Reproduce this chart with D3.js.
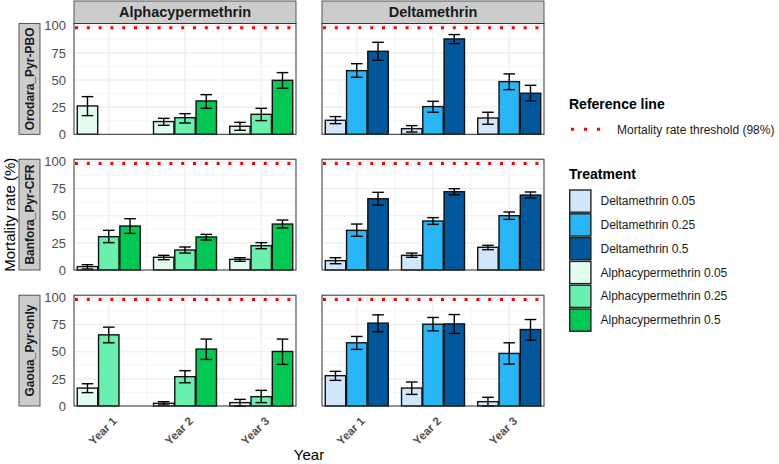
<!DOCTYPE html>
<html><head><meta charset="utf-8">
<script src="https://cdn.jsdelivr.net/npm/d3@7"></script>
<style>body{margin:0;background:#fff}svg{display:block;font-family:"Liberation Sans",Arial,sans-serif}</style>
</head><body><svg id="c" width="779" height="464"></svg>
<script>
const years = ["Year 1","Year 2","Year 3"];
const insecticides = ["Alphacypermethrin","Deltamethrin"];
const sites = ["Orodara_Pyr-PBO","Banfora_Pyr-CFR","Gaoua_Pyr-only"];
const alphaTreatments = ["Alphacypermethrin 0.05","Alphacypermethrin 0.25","Alphacypermethrin 0.5"];
const deltaTreatments = ["Deltamethrin 0.05","Deltamethrin 0.25","Deltamethrin 0.5"];
const legendTreatments = ["Deltamethrin 0.05","Deltamethrin 0.25","Deltamethrin 0.5","Alphacypermethrin 0.05","Alphacypermethrin 0.25","Alphacypermethrin 0.5"];
const treatmentColors = ["#CFE6FB","#29B6F6","#01579B","#E2FCEF","#69F0AE","#00C853"];
const threshold = 98;
const yTicks = [0,25,50,75,100];

// values per site, per year, per dose [mean, low, high]; null = missing
const orodaraAlpha = [[[26.1,17.2,34.7],null,null],[[11.7,8.3,14.7],[15.3,10.4,19],[30.7,23.9,36.5]],[[7.4,3.7,11],[18.4,12.6,23.9],[49.7,42.4,56.8]]];
const orodaraDelta = [[[12.9,9.8,16.3],[58.6,52.5,65],[76.4,68.1,84.7]],[[5.2,2.1,8],[25.5,20.3,30.4],[87.8,83.5,91.8]],[[15,9.2,20.3],[48.5,41.1,55.6],[37.8,30.7,45.1]]];
const banforaAlpha = [[[3.1,0.9,4.9],[30.7,25.2,36.5],[40.5,33.7,47.2]],[[11.7,9.5,13.5],[18.4,15.6,21.2],[30.4,27.6,32.8]],[[9.8,8,11.3],[22.4,19.6,25.2],[42.3,38.7,46]]];
const banforaDelta = [[[8.6,5.8,11.3],[36.5,31,42.3],[65.6,59.8,71.5]],[[13.5,11.7,15.6],[45.1,42,48.2],[72.1,69.3,74.8]],[[20.9,18.7,22.7],[50,46.6,53.4],[69,66.3,71.8]]];
const gaouaAlpha = [[[16.5,12.3,20.5],[65.5,58.2,72.6],null],[[2.5,0.9,4],[27,21.4,32.5],[52.4,42.9,61.6]],[[3.1,0,6.1],[8.6,3.1,14.4],[50.2,38.3,61.6]]];
const gaouaDelta = [[[27.9,23.6,31.9],[58.2,52.1,64],[76.3,68.3,83.9]],[[16.5,10.7,22.1],[75.3,69.2,81.5],[75.6,66.8,84.2]],[[4,0,8],[48.4,38.6,58.2],[70.4,60.6,79.6]]];

const siteData = {
  "Orodara_Pyr-PBO": {Alphacypermethrin: orodaraAlpha, Deltamethrin: orodaraDelta},
  "Banfora_Pyr-CFR": {Alphacypermethrin: banforaAlpha, Deltamethrin: banforaDelta},
  "Gaoua_Pyr-only": {Alphacypermethrin: gaouaAlpha, Deltamethrin: gaouaDelta}
};
const treatmentsFor = {Alphacypermethrin: alphaTreatments, Deltamethrin: deltaTreatments};
const color = d3.scaleOrdinal().domain(legendTreatments).range(treatmentColors);

const svg = d3.select("#c");
const colX = [74, 322], panelW = 222;
const rowY = [23.5, 159.2, 295.2], panelH = 110.8;
const grey = "#4D4D4D";

const x = d3.scalePoint().domain(years).range([0, panelW]).padding(0.456);
const step = x.step();
const y = d3.scaleLinear().domain([0, 102]).range([panelH, 0]);

insecticides.forEach((ins, ci) => {
  const s = svg.append("g").attr("transform", `translate(${colX[ci]},1)`);
  s.append("rect").attr("width", panelW).attr("height", rowY[0]-1).attr("fill", "#CCCCCC").attr("stroke", "#333").attr("stroke-width", 0.8);
  s.append("text").attr("x", panelW/2).attr("y", (rowY[0]-1)/2).attr("dy", "0.36em").attr("text-anchor", "middle")
    .attr("font-size", 14.5).attr("font-weight", "bold").attr("fill", "#1A1A1A").text(ins);

  const band = d3.scaleBand().domain(treatmentsFor[ins]).range([-0.413*step, 0.413*step]).paddingInner(0.04);

  sites.forEach((site, ri) => {
    const g = svg.append("g").attr("transform", `translate(${colX[ci]},${rowY[ri]})`);
    g.append("rect").attr("width", panelW).attr("height", panelH).attr("fill", "#fff");
    const minor = [12.5, 37.5, 62.5, 87.5];
    g.selectAll(".mn").data(minor).join("line").attr("x1", 0).attr("x2", panelW)
      .attr("y1", d => y(d)).attr("y2", d => y(d)).attr("stroke", "#F0F0F0").attr("stroke-width", 0.6);
    g.selectAll(".mj").data(yTicks).join("line").attr("x1", 0).attr("x2", panelW)
      .attr("y1", d => y(d)).attr("y2", d => y(d)).attr("stroke", "#EBEBEB").attr("stroke-width", 1.1);
    const vminor = [ (x(years[0])+x(years[1]))/2, (x(years[1])+x(years[2]))/2 ];
    g.selectAll(".vmn").data(vminor).join("line").attr("x1", d => d).attr("x2", d => d)
      .attr("y1", 0).attr("y2", panelH).attr("stroke", "#F0F0F0").attr("stroke-width", 0.6);
    g.selectAll(".vmj").data(years).join("line").attr("x1", d => x(d)).attr("x2", d => x(d))
      .attr("y1", 0).attr("y2", panelH).attr("stroke", "#EBEBEB").attr("stroke-width", 1.1);

    const vals = siteData[site][ins];
    const recs = [];
    years.forEach((yr, yi) => treatmentsFor[ins].forEach((tr, ti) => {
      const v = vals[yi][ti];
      if (v) recs.push({yr, tr, m: v[0], lo: v[1], hi: v[2]});
    }));
    g.selectAll(".bar").data(recs).join("rect")
      .attr("x", d => x(d.yr) + band(d.tr)).attr("width", band.bandwidth())
      .attr("y", d => y(d.m)).attr("height", d => y(0) - y(d.m))
      .attr("fill", d => color(d.tr)).attr("stroke", "#111").attr("stroke-width", 1.4);
    const cw = 5.8;
    const cx = d => x(d.yr)+band(d.tr)+band.bandwidth()/2;
    const eb = g.selectAll(".eb").data(recs).join("g").attr("stroke", "#000").attr("stroke-width", 1.4);
    eb.append("line").attr("x1", cx).attr("x2", cx).attr("y1", d => y(d.lo)).attr("y2", d => y(d.hi));
    eb.append("line").attr("x1", d => cx(d)-cw).attr("x2", d => cx(d)+cw).attr("y1", d => y(d.lo)).attr("y2", d => y(d.lo));
    eb.append("line").attr("x1", d => cx(d)-cw).attr("x2", d => cx(d)+cw).attr("y1", d => y(d.hi)).attr("y2", d => y(d.hi));

    g.append("line").attr("x1", 1).attr("x2", panelW).attr("y1", y(threshold)).attr("y2", y(threshold))
      .attr("stroke", "#FF0000").attr("stroke-width", 3).attr("stroke-dasharray", "3,8.8");
    g.append("rect").attr("width", panelW).attr("height", panelH).attr("fill", "none").attr("stroke", "#333").attr("stroke-width", 1);

    if (ci === 0) {
      const ya = svg.append("g").attr("transform", `translate(${colX[0]},${rowY[ri]})`);
      ya.selectAll("text").data(yTicks).join("text").attr("x", -8).attr("y", d => y(d)).attr("dy", "0.36em")
        .attr("text-anchor", "end").attr("font-size", 13).attr("fill", grey).text(d => d);
      const rs = svg.append("g").attr("transform", `translate(19,${rowY[ri]})`);
      rs.append("rect").attr("width", 21).attr("height", panelH).attr("fill", "#CCCCCC").attr("stroke", "#333").attr("stroke-width", 0.8);
      rs.append("text").attr("transform", `translate(10.5,${panelH/2}) rotate(-90)`).attr("dy", "0.36em")
        .attr("text-anchor", "middle").attr("font-size", 12).attr("font-weight", "bold").attr("fill", "#1A1A1A").text(site);
    }
    if (ri === 2) {
      const xa = svg.append("g").attr("transform", `translate(${colX[ci]},${rowY[ri]+panelH})`);
      xa.selectAll("text").data(years).join("text")
        .attr("transform", d => `translate(${x(d)+3},${10}) rotate(-45)`).attr("dy", "0.7em")
        .attr("text-anchor", "end").attr("font-size", 11.5).attr("font-weight", "bold").attr("fill", grey).text(d => d);
    }
  });
});

svg.append("text").attr("x", (colX[0] + colX[1] + panelW)/2).attr("y", 460).attr("text-anchor", "middle")
  .attr("font-size", 15).attr("fill", "#000").text("Year");
svg.append("text").attr("transform", `translate(15,${(rowY[0] + rowY[2] + panelH)/2}) rotate(-90)`).attr("text-anchor", "middle")
  .attr("font-size", 15).attr("fill", "#000").text("Mortality rate (%)");

const lg = svg.append("g").attr("transform", "translate(569,0)");
lg.append("text").attr("x", 0).attr("y", 109).attr("font-size", 14).attr("font-weight", "bold").attr("fill", "#000").text("Reference line");
lg.append("line").attr("x1", 2).attr("x2", 32).attr("y1", 129.3).attr("y2", 129.3).attr("stroke", "#FF0000")
  .attr("stroke-width", 3).attr("stroke-dasharray", "3,10");
lg.append("text").attr("x", 48).attr("y", 129.3).attr("dy", "0.36em").attr("font-size", 12).attr("fill", "#1A1A1A").text("Mortality rate threshold (98%)");
lg.append("text").attr("x", 0).attr("y", 179).attr("font-size", 14).attr("font-weight", "bold").attr("fill", "#000").text("Treatment");
const items = lg.selectAll(".li").data(legendTreatments).join("g").attr("transform", (d, i) => `translate(0,${189.3 + i*23.8})`);
items.append("rect").attr("x", 0.7).attr("y", 0.7).attr("width", 21.2).attr("height", 22.2).attr("fill", d => color(d)).attr("stroke", "#222").attr("stroke-width", 1.4);
items.append("text").attr("x", 31.5).attr("y", 11.5).attr("dy", "0.36em").attr("font-size", 12).attr("fill", "#1A1A1A").text(d => d);
</script></body></html>
